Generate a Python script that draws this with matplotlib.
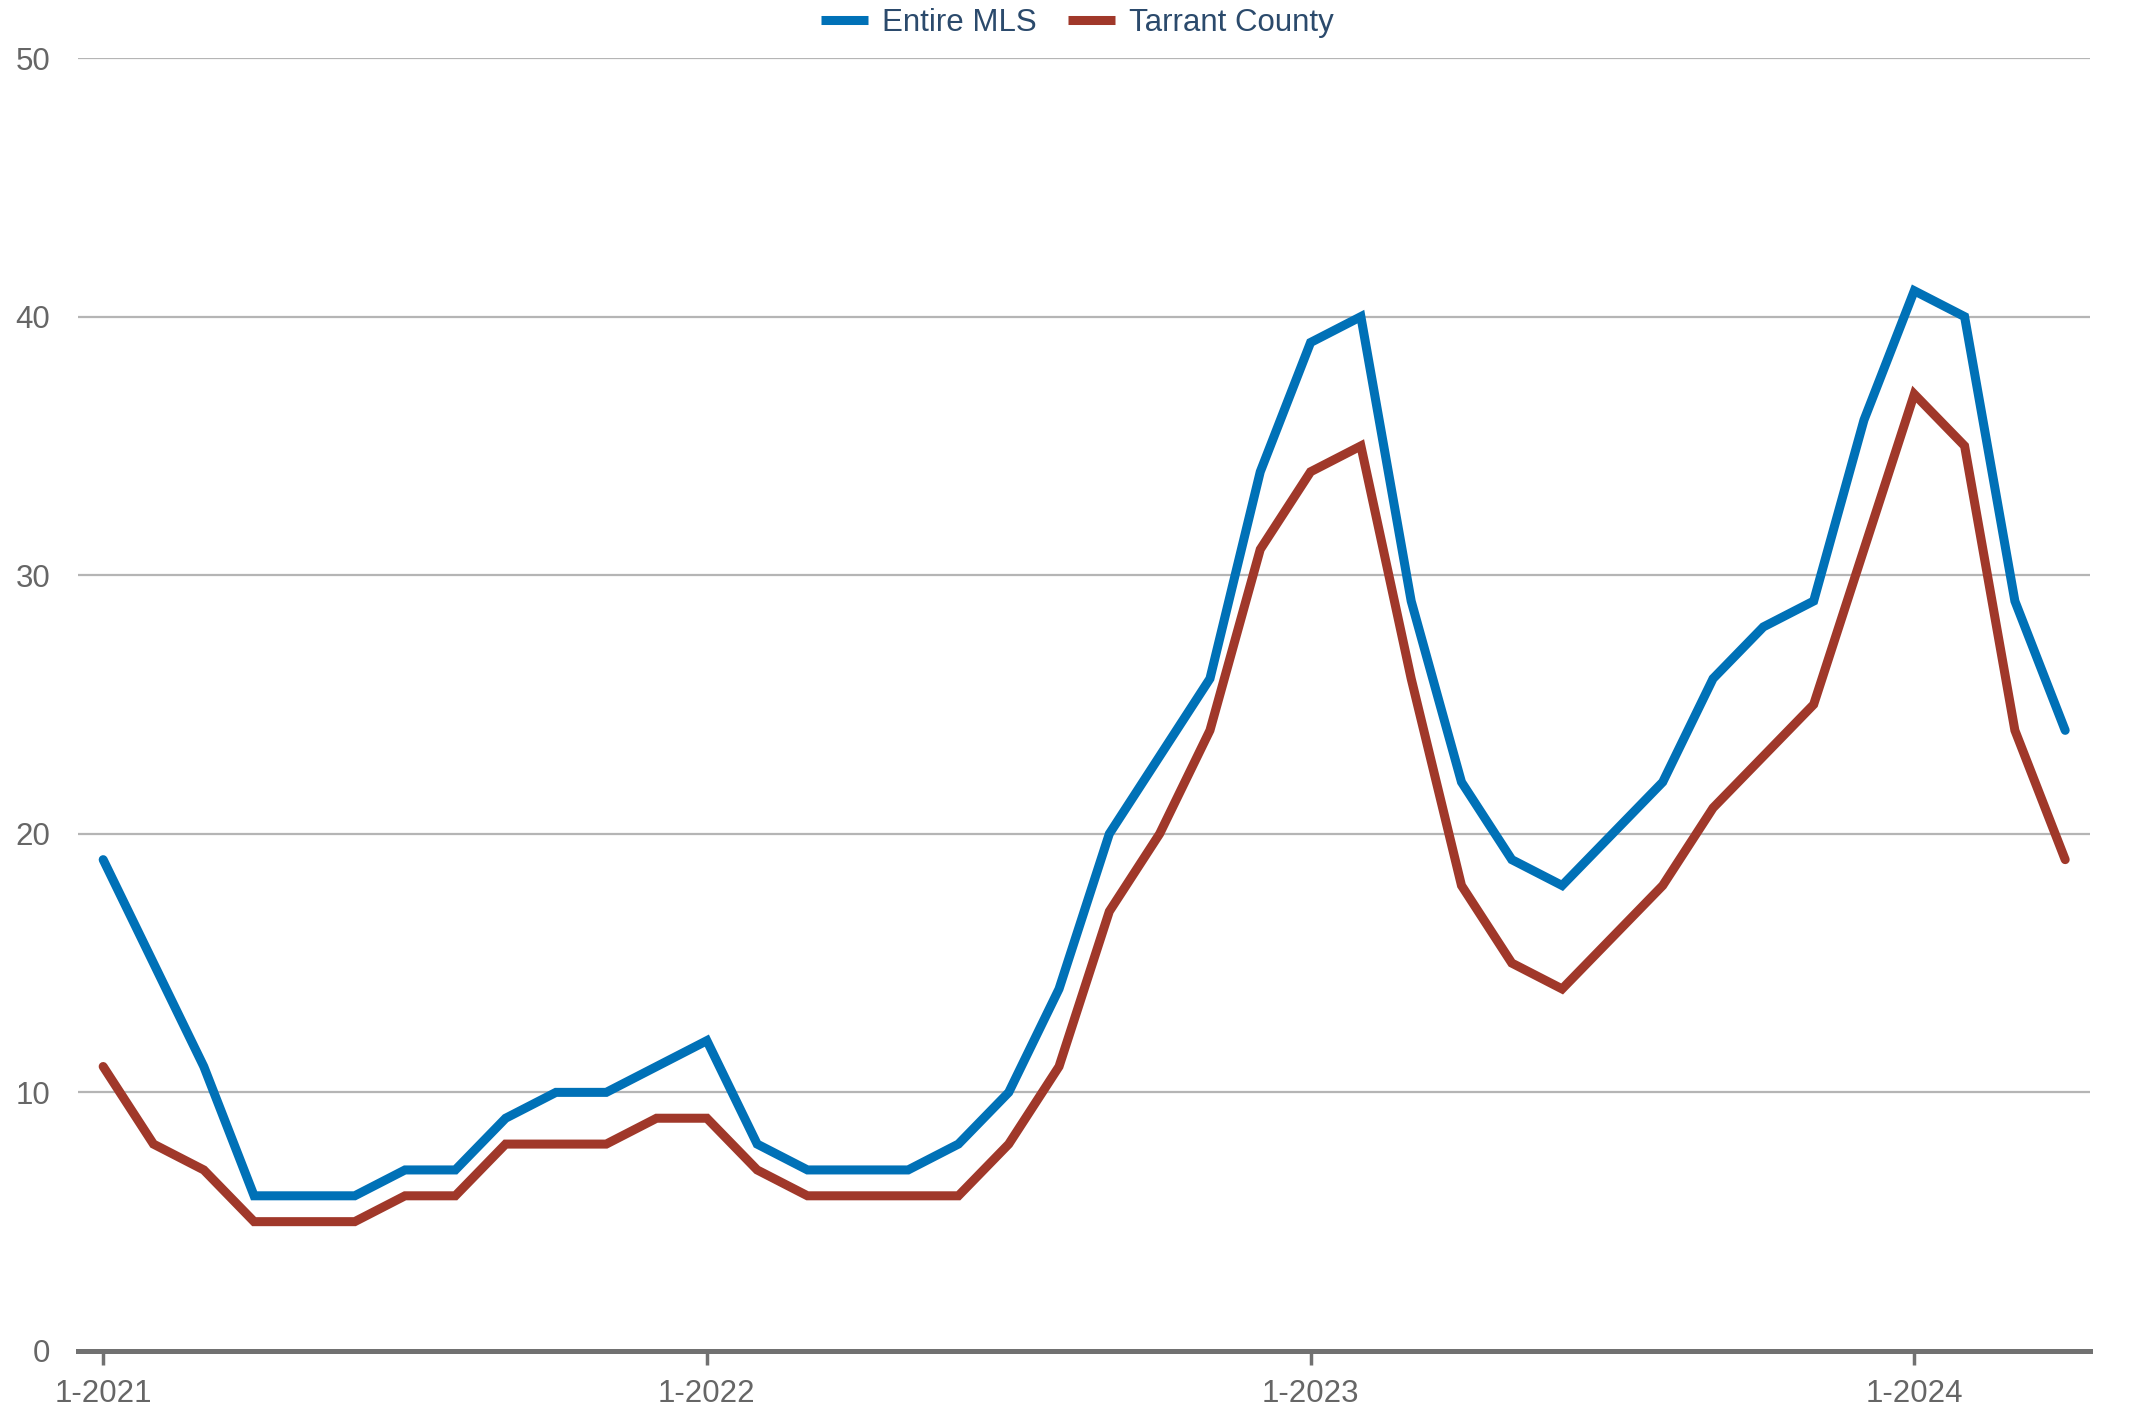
import matplotlib
matplotlib.use("Agg")
import matplotlib.pyplot as plt
from matplotlib.lines import Line2D

# monthly values, 1-2021 .. 4-2024
months = [f"{m}-{y}" for y in (2021, 2022, 2023, 2024) for m in range(1, 13)][:40]
entire_mls = [19, 15, 11, 6, 6, 6, 7, 7, 9, 10, 10, 11,
              12, 8, 7, 7, 7, 8, 10, 14, 20, 23, 26, 34,
              39, 40, 29, 22, 19, 18, 20, 22, 26, 28, 29, 36,
              41, 40, 29, 24]
tarrant = [11, 8, 7, 5, 5, 5, 6, 6, 8, 8, 8, 9,
           9, 7, 6, 6, 6, 6, 8, 11, 17, 20, 24, 31,
           34, 35, 26, 18, 15, 14, 16, 18, 21, 23, 25, 31,
           37, 35, 24, 19]
series_names = ["Entire MLS", "Tarrant County"]
series_colors = ["#0071b7", "#a0382a"]
y_ticks = [0, 10, 20, 30, 40, 50]

plt.rcParams["font.family"] = ["Liberation Sans", "DejaVu Sans"]
fsize = 22.5

fig = plt.figure(figsize=(21.55, 14.09), dpi=100)
ax = fig.add_axes([0.0362, 0.0412, 0.9338, 0.9176])

x = list(range(len(months)))
for vals, name, col in zip([entire_mls, tarrant], series_names, series_colors):
    ax.plot(x, vals, color=col, lw=6.5, solid_capstyle="round",
            solid_joinstyle="miter", label=name, zorder=3)

ax.set_xlim(-0.5, 39.5)
ax.set_ylim(0, 50)
ax.set_yticks(y_ticks)
ax.set_yticklabels([str(v) for v in y_ticks])
tick_pos = [i for i, m in enumerate(months) if m.startswith("1-")]
ax.set_xticks(tick_pos)
ax.set_xticklabels([months[i] for i in tick_pos])

ax.grid(axis="y", color="#b5b5b5", lw=1.6, zorder=1)
ax.set_axisbelow(True)
for s in ("top", "right", "left"):
    ax.spines[s].set_visible(False)
ax.spines["bottom"].set_color("#717171")
ax.spines["bottom"].set_linewidth(3.6)
ax.spines["bottom"].set_zorder(4)

ax.tick_params(axis="y", length=0, pad=20, labelsize=fsize, labelcolor="#666666")
ax.tick_params(axis="x", length=10, width=2.5, color="#717171", pad=10,
               labelsize=fsize, labelcolor="#666666")

handles = [Line2D([0], [0], color=c, lw=6.5, solid_capstyle="butt") for c in series_colors]
leg = fig.legend(handles, series_names, loc="center", bbox_to_anchor=(0.5, 0.984),
                 ncol=2, frameon=False, fontsize=fsize, handlelength=1.5,
                 handletextpad=0.45, columnspacing=1.0)
for t in leg.get_texts():
    t.set_color("#2b4a6c")

fig.savefig("out.png", dpi=100)
